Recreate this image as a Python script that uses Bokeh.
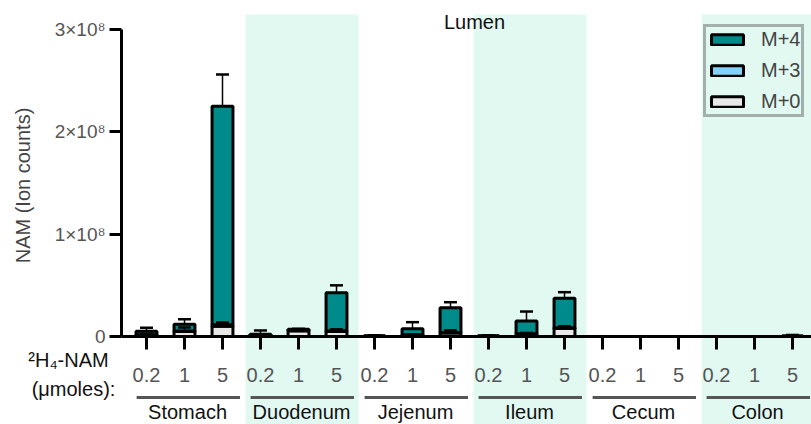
import math
from bokeh.plotting import figure
from bokeh.models import (Range1d, LinearAxis, FixedTicker, ColumnDataSource,
                          Whisker, TeeHead, Legend, LegendItem)
from bokeh.core.properties import value
from bokeh.embed import file_html
from bokeh.resources import INLINE

# ---------------- data ----------------
groups = ["Stomach", "Duodenum", "Jejenum", "Ileum", "Cecum", "Colon"]
doses = ["0.2", "1", "5"]
shaded_groups = ["Duodenum", "Ileum", "Colon"]

# ion counts per (group, dose), in order Stomach 0.2,1,5, Duodenum 0.2,1,5, ...
m0 = [1.5e6, 4.9e6, 1.0e7,
      1.0e6, 5.5e6, 5.0e6,
      0.3e6, 1.5e6, 3.5e6,
      0.3e6, 2.5e6, 8.0e6,
      0.0, 0.0, 0.0,
      0.0, 0.0, 0.2e6]
m3 = [0.2e6, 0.4e6, 1.5e6,
      0.1e6, 0.2e6, 0.5e6,
      0.0, 0.2e6, 0.4e6,
      0.0, 0.3e6, 0.5e6,
      0.0, 0.0, 0.0,
      0.0, 0.0, 0.0]
m4 = [3.4e6, 6.6e6, 2.135e8,
      1.1e6, 1.3e6, 3.73e7,
      0.5e6, 5.9e6, 2.43e7,
      0.5e6, 1.24e7, 2.88e7,
      0.0, 0.0, 0.0,
      0.0, 0.0, 0.3e6]
err_total = [3.4e6, 5.0e6, 3.1e7,
             3.7e6, 0.5e6, 7.2e6,
             0.4e6, 6.4e6, 5.3e6,
             0.4e6, 9.2e6, 6.0e6,
             0.0, 0.0, 0.0,
             0.0, 0.0, 1.0e6]
err_m0 = [1.0e6, 4.0e6, 3.7e6,
          0.5e6, 0.5e6, 2.0e6,
          0.2e6, 0.5e6, 2.5e6,
          0.2e6, 1.0e6, 2.0e6,
          0.0, 0.0, 0.0,
          0.0, 0.0, 0.1e6]
y_ticks = [0, 1e8, 2e8, 3e8]
y_tick_labels = ["0", "1×10⁸", "2×10⁸", "3×10⁸"]
series_labels = ["M+0", "M+3", "M+4"]

# ---------------- styling ----------------
FONT = "Liberation Sans"
TEAL = "#008b8b"
LBLUE = "#80d3f7"
LGRAY = "#e8e8e8"
BAND = "#e1f9f1"
K = 9.772e5              # data units per pixel on y
W, H = 811, 424

n = len(groups) * len(doses)
xs = list(range(n))
x_labels = {i: doses[i % 3] for i in xs}

p = figure(width=W, height=H, output_backend="svg", toolbar_location=None,
           x_axis_type=None, y_axis_type=None,
           x_range=Range1d(-146 / 38, (W - 146) / 38),
           y_range=Range1d(-(H - 336) * K, 336 * K),
           min_border=0, outline_line_color=None)
p.xgrid.visible = False
p.ygrid.visible = False
p.background_fill_color = "white"
p.border_fill_color = "white"

# shaded bands
band_left, band_right = [], []
for g in shaded_groups:
    gi = groups.index(g) * 3
    band_left.append(gi - 0.39)
    band_right.append(gi + 2 + 0.58)
p.quad(left=band_left, right=band_right, top=(336 - 14) * K, bottom=-(H - 336) * K,
       fill_color=BAND, line_color=None)

# stacked bars
src = ColumnDataSource(dict(x=xs, m0=m0, m3=m3, m4=m4))
rs = p.vbar_stack(["m0", "m3", "m4"], x="x", width=0.55, source=src,
                  fill_color=[LGRAY, LBLUE, TEAL], line_color="black", line_width=3)

# error bars (upper only)
tot = [a + b + c for a, b, c in zip(m0, m3, m4)]
esrc = ColumnDataSource(dict(x=xs, lo=tot, hi=[t + e for t, e in zip(tot, err_total)]))
esrc0 = ColumnDataSource(dict(x=xs, lo=m0, hi=[t + e for t, e in zip(m0, err_m0)]))
for s in (esrc, esrc0):
    wk = Whisker(source=s, base="x", lower="lo", upper="hi", dimension="height",
                 line_color="black", line_width=1.5, level="overlay",
                 upper_head=TeeHead(size=13, line_width=2.5, line_color="black"),
                 lower_head=None)
    p.add_layout(wk)

# y axis
yax = LinearAxis(fixed_location=-25 / 38, ticker=FixedTicker(ticks=y_ticks),
                 bounds=(0, 3e8),
                 major_label_overrides={t: l for t, l in zip(y_ticks, y_tick_labels)})
yax.axis_line_width = 3
yax.axis_line_color = "black"
yax.major_tick_line_width = 3
yax.major_tick_out = 12
yax.major_tick_in = 0
yax.minor_tick_line_color = None
yax.major_label_text_font = FONT
yax.major_label_text_font_size = "19px"
yax.major_label_text_color = "#555555"
yax.major_label_standoff = 4
p.add_layout(yax, "left")

# x axis at y = 0
xax = LinearAxis(fixed_location=0, ticker=FixedTicker(ticks=xs),
                 bounds=(-25 / 38, (W - 146) / 38),
                 major_label_overrides=x_labels)
xax.axis_line_width = 3
xax.axis_line_color = "black"
xax.major_tick_line_width = 3
xax.major_tick_out = 13
xax.major_tick_in = 0
xax.minor_tick_line_color = None
xax.major_label_text_font = FONT
xax.major_label_text_font_size = "20px"
xax.major_label_text_color = "#555555"
xax.major_label_standoff = 18
p.add_layout(xax, "below")

# group underlines and names
gl_x0 = [i * 3 - 0.26 for i in range(len(groups))]
gl_x1 = [i * 3 + 2 + 0.46 for i in range(len(groups))]
p.segment(x0=gl_x0, x1=gl_x1, y0=-(397 - 336) * K, y1=-(397 - 336) * K,
          line_color="#555555", line_width=3)
p.text(x=[i * 3 + 1 + 0.08 for i in range(len(groups))], y=-(411 - 336) * K,
       text=groups, text_font=value(FONT), text_font_size="20px",
       text_color="#111111", text_align="center", text_baseline="middle")

# left labels
p.text(x=[(68 - 146) / 38, (73 - 146) / 38], y=[-(359 - 336) * K, -(388 - 336) * K],
       text=["²H₄-NAM", "(μmoles):"], text_font=value(FONT), text_font_size="20px",
       text_color="#111111", text_align="center", text_baseline="middle")

# y axis title
p.text(x=[(22 - 146) / 38], y=[(336 - 185) * K], text=["NAM (Ion counts)"],
       angle=math.pi / 2, text_font=value(FONT), text_font_size="20px",
       text_color="#444444", text_align="center", text_baseline="middle")

# chart title
p.text(x=[(474 - 146) / 38], y=[(336 - 21) * K], text=["Lumen"],
       text_font=value(FONT), text_font_size="20px", text_color="#111111",
       text_align="center", text_baseline="middle")

# legend
items = [LegendItem(label=series_labels[i], renderers=[rs[i]]) for i in (2, 1, 0)]
leg = Legend(items=items, location=(703, H - 117), orientation="vertical",
             border_line_color="#666666", border_line_width=3,
             background_fill_alpha=0, glyph_width=40, glyph_height=13,
             label_text_font=FONT, label_text_font_size="20px",
             label_text_color="#444444", label_standoff=14,
             padding=1, spacing=8, margin=0)
p.add_layout(leg)

open("out.html", "w").write(file_html(p, INLINE))
